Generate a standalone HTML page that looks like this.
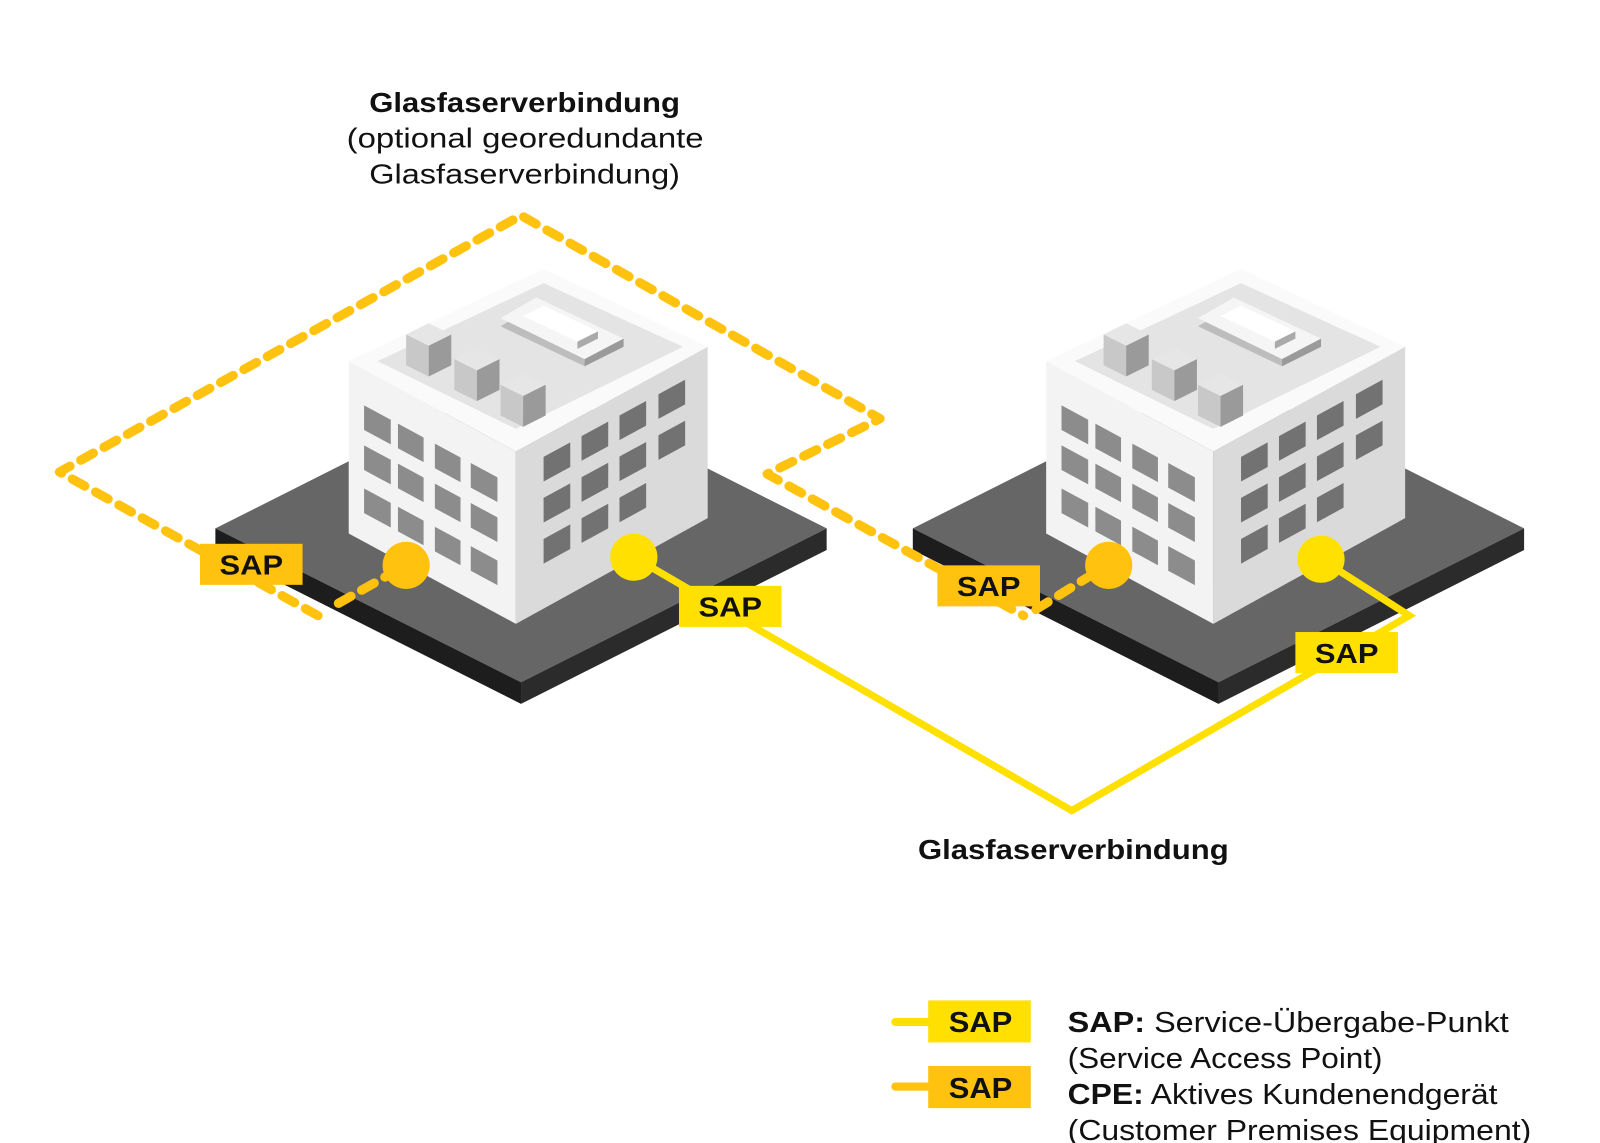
<!DOCTYPE html>
<html><head><meta charset="utf-8"><style>
html,body{margin:0;padding:0;background:#fff;}
svg{display:block;}
text{font-family:"Liberation Sans",sans-serif;fill:#111;}
</style></head><body>
<svg width="1600" height="1143" viewBox="2 0 1560 1114" preserveAspectRatio="none" xmlns="http://www.w3.org/2000/svg">
<defs>
<g id="ac">
  <polygon points="0,0 -22,-11 0,-22 22,-11" fill="#e6e6e6"/>
  <polygon points="-22,-11 0,0 0,30 -22,19" fill="#c8c8c8"/>
  <polygon points="0,0 22,-11 22,19 0,30" fill="#9a9a9a"/>
</g>
<g id="bld">
  <polygon points="212,515 510,365 808,515 510,665" fill="#666"/>
  <polygon points="212,515 510,665 510,686 212,536" fill="#1d1d1d"/>
  <polygon points="510,665 808,515 808,536 510,686" fill="#2b2b2b"/>
  <polygon points="342,352 505,440 505,608 342,520" fill="#f3f3f3"/>
  <polygon points="505,440 692,338 692,505 505,608" fill="#dadada"/>
  <polygon points="342,352 532,262 692,338 505,440" fill="#fafafa"/>
  <polygon points="370,352 532,276 668,338 505,418" fill="#e4e4e4"/>
  <g transform="matrix(1,0.54,0,1,342,352)" fill="#8c8c8c">
    <rect x="15" y="35" width="26" height="24"/><rect x="48" y="35" width="25" height="24"/><rect x="84" y="35" width="25" height="24"/><rect x="119" y="35" width="26" height="24"/>
    <rect x="15" y="74" width="26" height="24"/><rect x="48" y="74" width="25" height="24"/><rect x="84" y="74" width="25" height="24"/><rect x="119" y="74" width="26" height="24"/>
    <rect x="15" y="116" width="26" height="24"/><rect x="48" y="116" width="25" height="24"/><rect x="84" y="116" width="25" height="24"/><rect x="119" y="116" width="26" height="24"/>
  </g>
  <g transform="matrix(1,-0.545,0,1,505,440)" fill="#727272">
    <rect x="27" y="20" width="26" height="24"/><rect x="64" y="20" width="26" height="24"/><rect x="101" y="20" width="26" height="24"/><rect x="139" y="20" width="26" height="24"/>
    <rect x="27" y="60" width="26" height="24"/><rect x="64" y="60" width="26" height="24"/><rect x="101" y="60" width="26" height="24"/><rect x="139" y="60" width="26" height="24"/>
    <rect x="27" y="100" width="26" height="24"/><rect x="64" y="100" width="26" height="24"/><rect x="101" y="100" width="26" height="24"/>
  </g>
  <polygon points="490,318 525,298 610,338 572,357" fill="#bdbdbd"/>
  <polygon points="490,310 525,290 610,330 572,350" fill="#f5f5f5"/>
  <polygon points="572,350 610,330 610,338 572,357" fill="#9a9a9a"/>
  <polygon points="512,308 532,298 585,323 565,333" fill="#ffffff"/>
  <polygon points="565,333 585,323 585,330 565,340" fill="#aaa"/>
  <use href="#ac" x="420" y="337"/>
  <use href="#ac" x="467" y="361"/>
  <use href="#ac" x="512" y="386"/>
</g>
</defs>
<use href="#bld"/>
<use href="#bld" x="680" y="0"/>

<g fill="none" stroke="#FFC20E" stroke-width="9" stroke-linecap="round" stroke-linejoin="round" stroke-dasharray="14 12">
  <polyline points="312,600 60,460 510,210 860,408 750,462 1000,600"/>
  <line x1="332" y1="588" x2="378" y2="562"/>
  <line x1="1012" y1="594" x2="1062" y2="563"/>
</g>
<polyline points="620,543 735,610 1047,790 1376,600 1290,545" fill="none" stroke="#FFE000" stroke-width="7"/>

<circle cx="398" cy="551" r="23" fill="#FFC20E"/>
<circle cx="620" cy="543" r="23" fill="#FFE000"/>
<circle cx="1083" cy="551" r="23" fill="#FFC20E"/>
<circle cx="1290" cy="545" r="23" fill="#FFE000"/>

<g font-weight="bold" font-size="27">
  <rect x="197" y="530" width="100" height="40" fill="#FFC20E"/><text x="216" y="560" textLength="62" lengthAdjust="spacingAndGlyphs">SAP</text>
  <rect x="664" y="571" width="100" height="40" fill="#FFE000"/><text x="683" y="601" textLength="62" lengthAdjust="spacingAndGlyphs">SAP</text>
  <rect x="916" y="551" width="100" height="40" fill="#FFC20E"/><text x="935" y="581" textLength="62" lengthAdjust="spacingAndGlyphs">SAP</text>
  <rect x="1265" y="616" width="100" height="40" fill="#FFE000"/><text x="1284" y="646" textLength="62" lengthAdjust="spacingAndGlyphs">SAP</text>
</g>

<g font-size="27">
<text x="362" y="109" font-weight="bold" textLength="303" lengthAdjust="spacingAndGlyphs">Glasfaserverbindung</text>
<text x="340" y="144" textLength="348" lengthAdjust="spacingAndGlyphs">(optional georedundante</text>
<text x="362" y="179" textLength="303" lengthAdjust="spacingAndGlyphs">Glasfaserverbindung)</text>
<text x="897" y="837" font-weight="bold" textLength="303" lengthAdjust="spacingAndGlyphs">Glasfaserverbindung</text>
</g>

<line x1="875" y1="996" x2="910" y2="996" stroke="#FFE000" stroke-width="8" stroke-linecap="round"/>
<rect x="907" y="975" width="100" height="41" fill="#FFE000"/>
<text x="927" y="1006" font-size="28" font-weight="bold" textLength="62" lengthAdjust="spacingAndGlyphs">SAP</text>
<line x1="875" y1="1059" x2="910" y2="1059" stroke="#FFC20E" stroke-width="8" stroke-linecap="round"/>
<rect x="907" y="1039" width="100" height="41" fill="#FFC20E"/>
<text x="927" y="1070" font-size="28" font-weight="bold" textLength="62" lengthAdjust="spacingAndGlyphs">SAP</text>
<g font-size="28">
<text x="1043" y="1006" textLength="430" lengthAdjust="spacingAndGlyphs"><tspan font-weight="bold">SAP:</tspan> Service-Übergabe-Punkt</text>
<text x="1043" y="1041" textLength="307" lengthAdjust="spacingAndGlyphs">(Service Access Point)</text>
<text x="1043" y="1076" textLength="419" lengthAdjust="spacingAndGlyphs"><tspan font-weight="bold">CPE:</tspan> Aktives Kundenendgerät</text>
<text x="1043" y="1111" textLength="452" lengthAdjust="spacingAndGlyphs">(Customer Premises Equipment)</text>
</g>
</svg>
</body></html>
